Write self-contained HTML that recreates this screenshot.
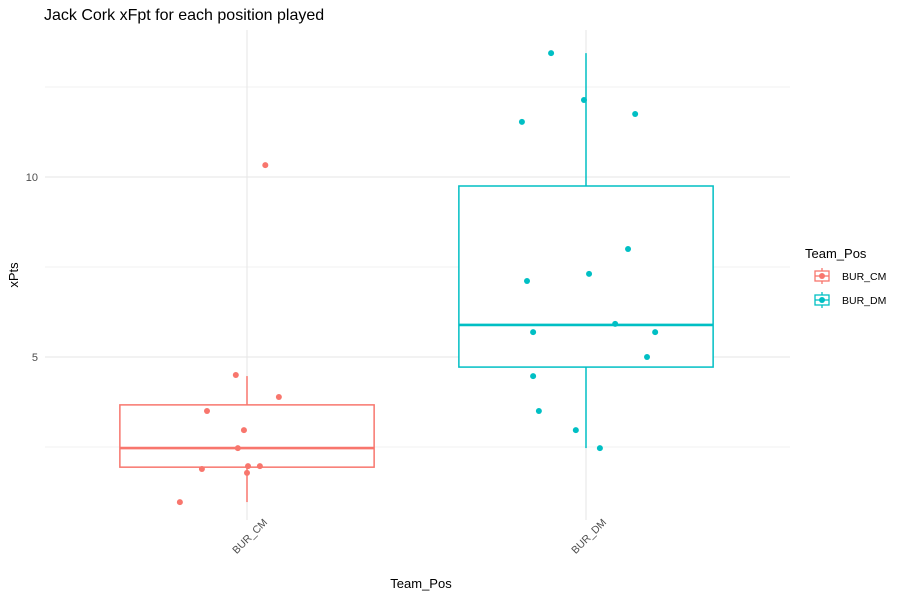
<!DOCTYPE html>
<html><head><meta charset="utf-8"><style>
body{margin:0;background:#fff;font-family:"Liberation Sans",sans-serif}
</style></head><body>
<svg id="c" width="907" height="599" xmlns="http://www.w3.org/2000/svg" font-family="Liberation Sans, sans-serif"></svg>
<script>
const categories=["BUR_CM","BUR_DM"];
const colors=["#F8766D","#00BFC4"];
const yTicks=[5,10];
const yMinor=[2.5,7.5,12.5];
const boxQ1=[1.94,4.72];
const boxMedian=[2.47,5.89];
const boxQ3=[3.67,9.75];
const whiskerLow=[0.97,2.47];
const whiskerHigh=[4.47,13.44];
const cmValues=[10.33,4.5,3.89,3.5,2.97,2.47,1.89,1.97,1.97,1.78,0.97];
const cmJitter=[0.054,-0.033,0.094,-0.118,-0.009,-0.027,-0.133,0.003,0.038,0,-0.198];
const dmValues=[13.44,12.14,11.53,11.75,8.0,7.11,7.31,5.92,5.69,5.69,5.0,4.47,3.5,2.97,2.47];
const dmJitter=[-0.103,-0.006,-0.189,0.145,0.124,-0.174,0.009,0.086,-0.156,0.204,0.18,-0.156,-0.139,-0.03,0.041];
const NS="http://www.w3.org/2000/svg";
const svg=document.getElementById('c');
const px0=45,px1=790,py0=30,py1=520;
const y=v=>177+(10-v)*36;
const x=i=>247+i*339;
const catW=339;
function mk(t,a,p){const e=document.createElementNS(NS,t);for(const k in a)e.setAttribute(k,a[k]);(p||svg).appendChild(e);return e;}
yMinor.forEach(v=>{const l=mk('line',{x1:px0,x2:px1,y1:y(v),y2:y(v),stroke:'#f0f0f0','stroke-width':1});

});
yTicks.forEach(v=>{const l=mk('line',{x1:px0,x2:px1,y1:y(v),y2:y(v),stroke:'#e6e6e6','stroke-width':1});


const t=mk('text',{x:38,y:y(v)+4,'text-anchor':'end','font-size':11,fill:'#4d4d4d'});t.textContent=v;

});
categories.forEach((c,i)=>{const l=mk('line',{x1:x(i),x2:x(i),y1:py0,y2:py1,stroke:'#e6e6e6','stroke-width':1});

});
categories.forEach((c,i)=>{
const g=mk('g',{stroke:colors[i],fill:'none','stroke-width':1.5});


const h=catW*0.375;
mk('line',{x1:x(i),x2:x(i),y1:y(whiskerHigh[i]),y2:y(boxQ3[i])},g);
mk('line',{x1:x(i),x2:x(i),y1:y(boxQ1[i]),y2:y(whiskerLow[i])},g);
mk('rect',{x:x(i)-h,y:y(boxQ3[i]),width:2*h,height:y(boxQ1[i])-y(boxQ3[i]),fill:'#fff'},g);
mk('line',{x1:x(i)-h,x2:x(i)+h,y1:y(boxMedian[i]),y2:y(boxMedian[i]),'stroke-width':2.6},g);
const t=mk('text',{transform:`translate(${x(i)+21},${523}) rotate(-45)`,'text-anchor':'end','font-size':10.5,fill:'#4d4d4d'});t.textContent=c;


});
[[cmValues,cmJitter],[dmValues,dmJitter]].forEach(([vals,jit],i)=>{vals.forEach((v,k)=>{
const p=mk('circle',{cx:x(i)+jit[k]*catW,cy:y(v),r:3,fill:colors[i]});

});});
</script>
<svg style="position:absolute;left:0;top:0" width="907" height="599" font-family="Liberation Sans, sans-serif">
<text x="44" y="20" font-size="16" fill="#000">Jack Cork xFpt for each position played</text>
<text x="421" y="588" font-size="13" text-anchor="middle">Team_Pos</text>
<text transform="translate(18,275) rotate(-90)" font-size="13" text-anchor="middle">xPts</text>
<text x="805" y="258" font-size="13">Team_Pos</text>
<g>
<line x1="822" x2="822" y1="268" y2="284" stroke="#F8766D" stroke-width="1.3"/><rect x="815" y="271" width="14" height="10" fill="#fff" stroke="#F8766D" stroke-width="1.3"/><line x1="815" x2="829" y1="276" y2="276" stroke="#F8766D" stroke-width="1.3"/><circle cx="822" cy="276" r="3" fill="#F8766D"/>
<text x="842" y="280" font-size="10.5" fill="#000">BUR_CM</text></g>
<g>
<line x1="822" x2="822" y1="292" y2="308" stroke="#00BFC4" stroke-width="1.3"/><rect x="815" y="295" width="14" height="10" fill="#fff" stroke="#00BFC4" stroke-width="1.3"/><line x1="815" x2="829" y1="300" y2="300" stroke="#00BFC4" stroke-width="1.3"/><circle cx="822" cy="300" r="3" fill="#00BFC4"/>
<text x="842" y="304" font-size="10.5" fill="#000">BUR_DM</text></g>
</svg>
</body></html>
